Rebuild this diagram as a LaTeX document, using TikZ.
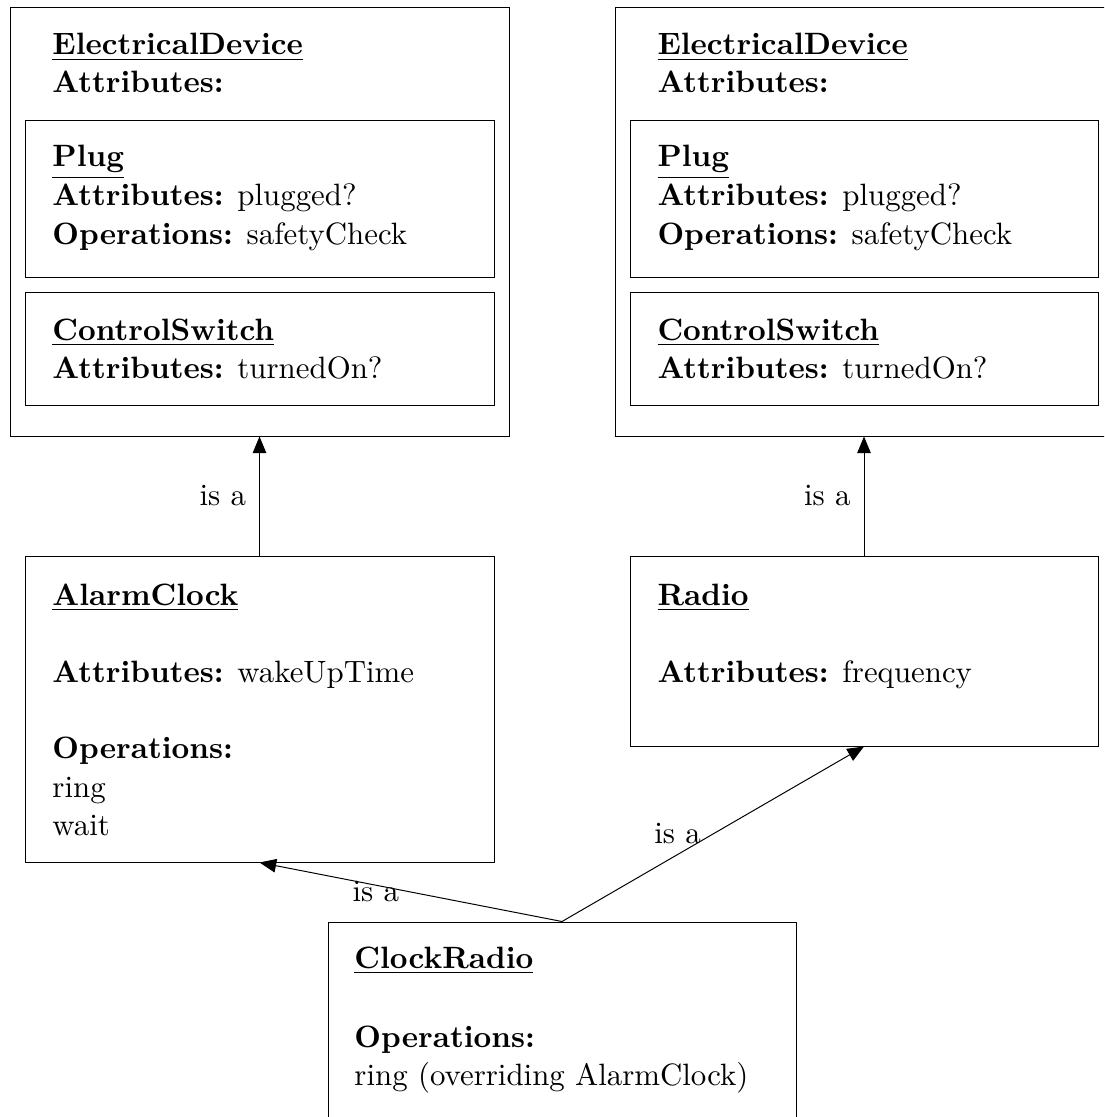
\documentclass[tikz,border=0pt]{standalone}
\usetikzlibrary{arrows.meta,fit}
\begin{document}
\begin{tikzpicture}[x=0.324pt,y=-0.324pt, line width=0.32pt,
  box/.style={draw, inner sep=0pt, rectangle},
  txt/.style={anchor=base west, inner sep=0pt},
  isa/.style={-{Triangle[length=5.4pt,width=4.4pt]}},
  lbl/.style={inner sep=0pt}]
\useasboundingbox (0,0) rectangle (1104,1117);
\clip (0,0) rectangle (1104,1117);
% ---------- left ElectricalDevice ----------
\node[box, fit={(10,7) (509,436)}] (ed1) {};
\node[box, fit={(25,120) (494,277)}] (pl1) {};
\node[box, fit={(25,292) (494,405)}] (cs1) {};
\node[txt] (ed1a) at (52,55) {\underline{\textbf{ElectricalDevice}}};
\node[txt] (ed1b) at (52,93) {\textbf{Attributes:}};
\node[txt] (pl1a) at (52,167) {\underline{\textbf{Plug}}};
\node[txt] (pl1b) at (52,206) {\textbf{Attributes:} plugged?};
\node[txt] (pl1c) at (52,245) {\textbf{Operations:} safetyCheck};
\node[txt] (cs1a) at (52,340) {\underline{\textbf{ControlSwitch}}};
\node[txt] (cs1b) at (52,378) {\textbf{Attributes:} turnedOn?};
% ---------- right ElectricalDevice ----------
\node[box, fit={(615,7) (1113,436)}] (ed2) {};
\node[box, fit={(630,120) (1098,277)}] (pl2) {};
\node[box, fit={(630,292) (1098,405)}] (cs2) {};
\node[txt] (ed2a) at (657,55) {\underline{\textbf{ElectricalDevice}}};
\node[txt] (ed2b) at (657,93) {\textbf{Attributes:}};
\node[txt] (pl2a) at (657,167) {\underline{\textbf{Plug}}};
\node[txt] (pl2b) at (657,206) {\textbf{Attributes:} plugged?};
\node[txt] (pl2c) at (657,245) {\textbf{Operations:} safetyCheck};
\node[txt] (cs2a) at (657,340) {\underline{\textbf{ControlSwitch}}};
\node[txt] (cs2b) at (657,378) {\textbf{Attributes:} turnedOn?};
% ---------- AlarmClock ----------
\node[box, fit={(25,556) (494,862)}] (ac) {};
\node[txt] (aca) at (52,605) {\underline{\textbf{AlarmClock}}};
\node[txt] (acb) at (52,682) {\textbf{Attributes:} wakeUpTime};
\node[txt] (acc) at (52,758) {\textbf{Operations:}};
\node[txt] (acd) at (52,797) {ring};
\node[txt] (ace) at (52,835) {wait};
% ---------- Radio ----------
\node[box, fit={(630,556) (1098,746)}] (rd) {};
\node[txt] (rda) at (657,605) {\underline{\textbf{Radio}}};
\node[txt] (rdb) at (657,682) {\textbf{Attributes:} frequency};
% ---------- ClockRadio ----------
\node[box, fit={(328,922) (796,1140)}] (cr) {};
\node[txt] (cra) at (354,968) {\underline{\textbf{ClockRadio}}};
\node[txt] (crb) at (354,1047) {\textbf{Operations:}};
\node[txt] (crc) at (354,1085) {ring (overriding AlarmClock)};
% ---------- connectors ----------
\draw[isa] (ac.north) -- node[lbl, midway, left=4.2pt] (l1) {is a} (ed1.south);
\draw[isa] (rd.north) -- node[lbl, midway, left=4.2pt] (l2) {is a} (ed2.south);
\draw[isa] (cr.north) -- node[lbl, pos=0.6155, yshift=-2.1pt] (l3) {is a} (ac.south);
\draw[isa] (cr.north) -- node[lbl, pos=0.3825, yshift=6.8pt] (l4) {is a} (rd.south);
\end{tikzpicture}
\end{document}
